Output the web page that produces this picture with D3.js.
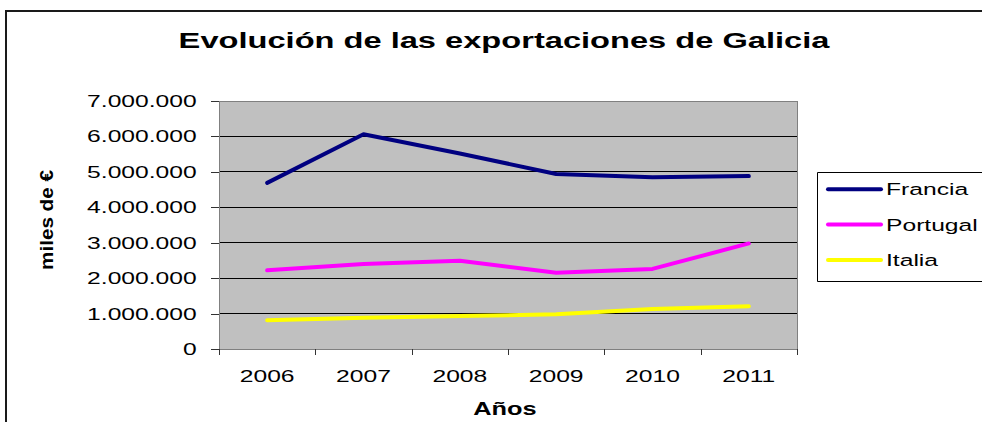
<!DOCTYPE html>
<html>
<head>
<meta charset="utf-8">
<script src="https://cdn.jsdelivr.net/npm/d3@7"></script>
<style>
  html, body { margin: 0; background: #fff; overflow: hidden; }
  svg { display: block; overflow: hidden; font-family: "Liberation Sans", Arial, sans-serif; }
</style>
</head>
<body>
<div id="chart"></div>
<script>
// data (miles de euros)
const years = ["2006", "2007", "2008", "2009", "2010", "2011"];
const francia  = [4690000, 6060000, 5520000, 4940000, 4850000, 4880000];
const portugal = [2220000, 2400000, 2490000, 2150000, 2260000, 2980000];
const italia   = [810000, 880000, 930000, 980000, 1130000, 1210000];
const seriesNames = ["Francia", "Portugal", "Italia"];
const yTicks = [0, 1000000, 2000000, 3000000, 4000000, 5000000, 6000000, 7000000];

const COLORS = ["#000080", "#ff00ff", "#ffff00"];
const SX = 1.45; // the reference text is stretched horizontally

const W = 982, H = 422;
const plot = { left: 219, right: 797, top: 101, bottom: 349 };

const svg = d3.select("#chart").append("svg")
  .attr("width", W).attr("height", H);

// outer frame: only top and left edges are visible
svg.append("path")
  .attr("d", "M6," + (H + 10) + " V11 H" + (W + 10))
  .attr("fill", "none")
  .attr("stroke", "#1a1a1a")
  .attr("stroke-width", 2);

const locale = d3.formatLocale({ decimal: ",", thousands: ".", grouping: [3], currency: ["", "€"] });
const fmt = locale.format(",");

const x = d3.scaleBand().domain(years).range([plot.left, plot.right]).padding(0);
const xEdge = d3.scaleLinear().domain([0, years.length]).range([plot.left, plot.right]);
const y = d3.scaleLinear().domain([0, 7000000]).range([plot.bottom, plot.top]);

// plot area
svg.append("rect")
  .attr("x", plot.left).attr("y", plot.top)
  .attr("width", plot.right - plot.left).attr("height", plot.bottom - plot.top)
  .attr("fill", "#c0c0c0");

// gridlines
svg.append("g")
  .selectAll("line")
  .data(yTicks.slice(1))
  .enter()
  .append("line")
  .attr("x1", plot.left).attr("x2", plot.right)
  .attr("y1", d => y(d)).attr("y2", d => y(d))
  .attr("stroke", "#000")
  .attr("stroke-width", 1)
  .attr("shape-rendering", "crispEdges");

// plot border
svg.append("rect")
  .attr("x", plot.left).attr("y", plot.top)
  .attr("width", plot.right - plot.left).attr("height", plot.bottom - plot.top)
  .attr("fill", "none")
  .attr("stroke", "#808080")
  .attr("shape-rendering", "crispEdges");

// y axis
const yAxisG = svg.append("g")
  .attr("transform", "translate(" + plot.left + ",0)")
  .call(d3.axisLeft(y).tickValues(yTicks).tickSize(8).tickPadding(7.4).tickFormat(fmt));
yAxisG.select(".domain").attr("stroke", "#808080");
yAxisG.selectAll(".tick line").attr("stroke", "#333").attr("shape-rendering", "crispEdges");
yAxisG.selectAll("text")
  .attr("font-size", "17px")
  .attr("fill", "#000")
  .attr("transform", "scale(" + SX + ",1)");

// x axis: ticks between categories
const xTickG = svg.append("g")
  .attr("transform", "translate(0," + plot.bottom + ")")
  .call(d3.axisBottom(xEdge).tickValues(d3.range(years.length + 1)).tickSize(6).tickFormat(""));
xTickG.select(".domain").attr("stroke", "#808080");
xTickG.selectAll(".tick line").attr("stroke", "#333").attr("shape-rendering", "crispEdges");

// x axis labels
const xLabG = svg.append("g")
  .attr("transform", "translate(0," + plot.bottom + ")")
  .call(d3.axisBottom(x).tickSize(0).tickPadding(21));
xLabG.select(".domain").remove();
xLabG.selectAll("text")
  .attr("font-size", "17px")
  .attr("fill", "#000")
  .attr("transform", "scale(" + SX + ",1)");

// lines
const allSeries = [francia, portugal, italia];
const line = d3.line()
  .x((d, i) => x(years[i]) + x.bandwidth() / 2)
  .y(d => y(d));

svg.append("g")
  .selectAll("path")
  .data(allSeries)
  .enter()
  .append("path")
  .attr("d", line)
  .attr("fill", "none")
  .attr("stroke", (d, i) => COLORS[i])
  .attr("stroke-width", 4)
  .attr("stroke-linejoin", "round")
  .attr("stroke-linecap", "round");

// title
svg.append("text")
  .attr("transform", "translate(504,48) scale(" + SX + ",1)")
  .attr("text-anchor", "middle")
  .attr("font-size", "22.5px")
  .attr("font-weight", "bold")
  .text("Evolución de las exportaciones de Galicia");

// axis titles
svg.append("text")
  .attr("transform", "translate(505,415) scale(" + SX + ",1)")
  .attr("text-anchor", "middle")
  .attr("font-size", "17.5px")
  .attr("font-weight", "bold")
  .text("Años");

svg.append("text")
  .attr("transform", "translate(53,220) rotate(-90)")
  .attr("text-anchor", "middle")
  .attr("font-size", "18px")
  .attr("font-weight", "bold")
  .attr("textLength", 100)
  .attr("lengthAdjust", "spacingAndGlyphs")
  .text("miles de €");

// legend
const legend = svg.append("g").attr("id", "legend");
legend.append("path")
  .attr("d", "M" + (W + 10) + ",172.5 H817.5 V281.5 H" + (W + 10))
  .attr("fill", "#fff")
  .attr("stroke", "#000");

const rows = legend.selectAll("g.row")
  .data(seriesNames)
  .enter()
  .append("g")
  .attr("class", "row")
  .attr("transform", (d, i) => "translate(0," + (189.3 + i * 35.3) + ")");
rows.append("line")
  .attr("x1", 828).attr("x2", 881)
  .attr("stroke", (d, i) => COLORS[i])
  .attr("stroke-width", 4)
  .attr("stroke-linecap", "round");
rows.append("text")
  .attr("transform", "translate(886,6) scale(" + SX + ",1)")
  .attr("font-size", "17px")
  .text(d => d);
</script>
</body>
</html>
